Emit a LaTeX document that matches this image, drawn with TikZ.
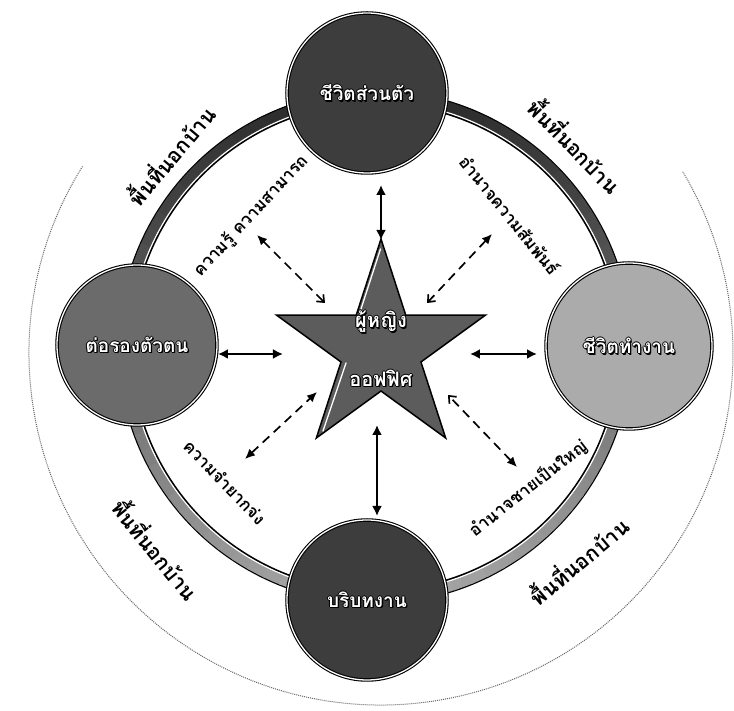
\documentclass[tikz,border=0pt]{standalone}
\usepackage{fontspec}
\newfontfamily\thai[Script=Thai]{Loma}
\usetikzlibrary{arrows.meta,shapes.geometric}
\newcommand{\olbl}[1]{%
\makebox[0pt][l]{\color{black}\hspace*{1pt}#1}%
\makebox[0pt][l]{\color{black}\hspace*{-1pt}#1}%
\makebox[0pt][l]{\color{black}\raisebox{1pt}{#1}}%
\makebox[0pt][l]{\color{black}\raisebox{-1pt}{#1}}%
\makebox[0pt][l]{\color{black}\hspace*{1.3pt}\raisebox{-1.3pt}{#1}}%
\textcolor{white}{#1}}
\tikzset{
  bubble/.style={circle, minimum size=160pt, inner sep=0pt, draw=black,
    line width=1.1pt, double=white, double distance=1.3pt,
    font=\thai\bfseries\fontsize{19}{22}\selectfont},
  ringlbl/.style={font=\thai\bfseries\fontsize{17}{20}\selectfont, inner sep=0pt},
  outlbl/.style={font=\thai\bfseries\fontsize{21}{24}\selectfont, inner sep=0pt},
  startxt/.style={font=\thai\bfseries\fontsize{20}{23}\selectfont, inner sep=0pt},
  solidarrow/.style={line width=2.2pt, {Latex[length=10pt,width=10pt]}-{Latex[length=10pt,width=10pt]}},
  dasharrow/.style={line width=1.7pt, dash pattern=on 9pt off 6pt,
    {Latex[length=10pt,width=9pt]}-{Straight Barb[length=6pt,width=10pt]}},
  highlight/.style={white, line width=1.3pt, line cap=round},
}
\begin{document}
\begin{tikzpicture}[x=1pt,y=1pt]
\useasboundingbox (-375,-364) rectangle (359,347);
\fill[white] (-375,-364) rectangle (359,347);
% outer faint circle
\draw[black!60, line width=1pt, densely dotted] (6,-6) ++(148:352) arc (148:391:352);
% ring
\draw[black, line width=14pt] (0,0) circle (250);
\foreach \a in {0,4,...,356}{
  \pgfmathtruncatemacro\d{60+24*cos(\a-90)}
  \draw[black!\d, line width=10.5pt] (\a:250.6) arc (\a:\a+4.6:250.6);
}
\draw[white, line width=1.2pt] (0,0) circle (245.3);
% circles
\node[bubble, fill=black!76] (top) at (-8,254) {\olbl{ชีวิตส่วนตัว}};
\node[bubble, fill=black!58] (left) at (-238,2) {\olbl{ต่อรองตัวตน}};
\node[bubble, fill=black!33, minimum size=166pt] (right) at (254,1) {\olbl{ชีวิตทำงาน}};
\node[bubble, fill=black!76] (bottom) at (-8,-253) {\olbl{บริบทงาน}};
% star
\node[star, star points=5, star point ratio=2.618, minimum size=220pt, inner sep=0pt,
  fill=black!64, draw=black, line width=1.5pt] (star) at (6,-2) {};
\coordinate (h1a) at (5.5,98); \coordinate (h1b) at (-14,38);
\coordinate (h2a) at (-29,-16); \coordinate (h2b) at (-52,-84);
\draw[highlight] (h1a) -- (h1b);
\draw[highlight] (h2a) -- (h2b);
\node[startxt] (s1) at (6,25) {\olbl{ผู้หญิง}};
\node[startxt] (s2) at (6,-31) {\olbl{ออฟฟิศ}};
% solid arrows
\coordinate (ta) at (6,162); \coordinate (tb) at (6,107);
\coordinate (ba) at (2,-78); \coordinate (bb) at (2,-169);
\coordinate (la) at (-157,-7); \coordinate (lb) at (-92,-7);
\coordinate (ra) at (95,-7); \coordinate (rb) at (162,-7);
\draw[solidarrow] (ta) -- (tb);
\draw[solidarrow] (ba) -- (bb);
\draw[solidarrow] (la) -- (lb);
\draw[solidarrow] (ra) -- (rb);
% dashed arrows
\coordinate (ula) at (-118,112); \coordinate (ulb) at (-50,44);
\coordinate (ura) at (117,113); \coordinate (urb) at (52,44);
\coordinate (lla) at (-130,-112); \coordinate (llb) at (-58,-45);
\coordinate (lra) at (142,-120); \coordinate (lrb) at (73,-48);
\draw[dasharrow] (ula) -- (ulb);
\draw[dasharrow] (ura) -- (urb);
\draw[line width=1.7pt, dash pattern=on 9pt off 6pt, {Latex[length=10pt,width=9pt]}-{Latex[length=10pt,width=9pt]}] (lla) -- (llb);
\draw[dasharrow] (lra) -- (lrb);
% ring labels
\node[ringlbl, rotate=47] (k1) at (-124,131) {ความรู้ ความสามารถ};
\node[ringlbl, rotate=-51] (k2) at (135,132) {อำนาจความสัมพันธ์};
\node[ringlbl, rotate=-46] (k3) at (-150,-135) {ความจำยากจ่ง};
\node[ringlbl, rotate=38] (k4) at (153,-141) {อำนาจชายเป็นใหญ่};
% outer labels
\node[outlbl, rotate=50] (o1) at (-205,192) {พื้นที่นอกบ้าน};
\node[outlbl, rotate=-46] (o2) at (201,202) {พื้นที่นอกบ้าน};
\node[outlbl, rotate=-51] (o3) at (-218,-202) {พื้นที่นอกบ้าน};
\node[outlbl, rotate=40] (o4) at (203,-213) {พื้นที่นอกบ้าน};
\end{tikzpicture}
\end{document}
